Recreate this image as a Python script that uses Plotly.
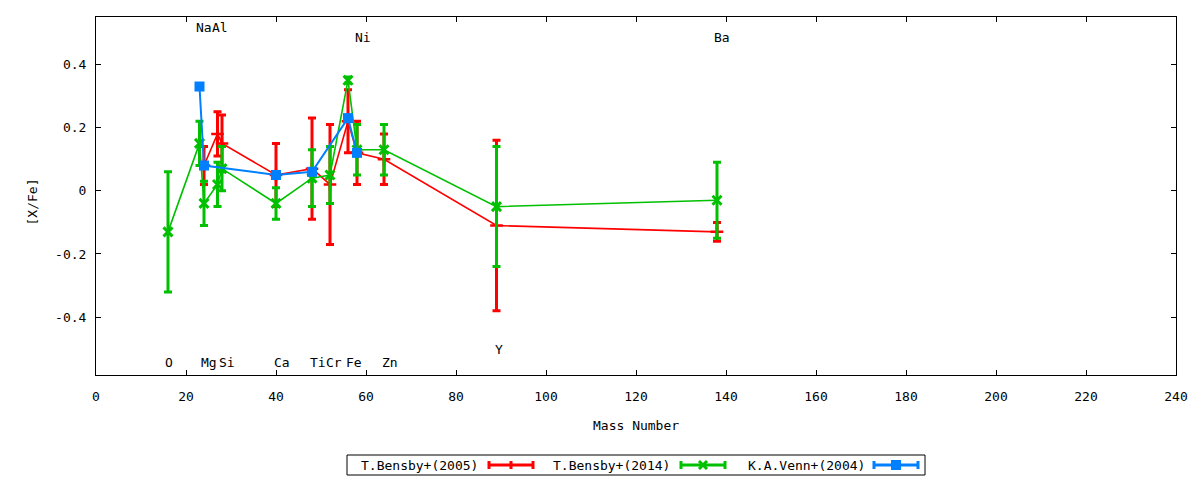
import plotly.graph_objects as go

# ---------------- data ----------------
b05_elem = ["Mg", "Al", "Si", "Ca", "Ti", "Cr", "Fe", "Ni", "Zn", "Y", "Ba"]
b05_mass = [24, 27, 28, 40, 48, 52, 56, 58, 64, 89, 138]
b05_val = [0.08, 0.18, 0.15, 0.05, 0.07, 0.02, 0.22, 0.12, 0.10, -0.11, -0.13]
b05_err = [0.06, 0.07, 0.09, 0.10, 0.16, 0.19, 0.10, 0.10, 0.08, 0.27, 0.03]

b14_elem = ["O", "Na", "Mg", "Al", "Si", "Ca", "Ti", "Cr", "Fe", "Ni", "Zn", "Y", "Ba"]
b14_mass = [16, 23, 24, 27, 28, 40, 48, 52, 56, 58, 64, 89, 138]
b14_val = [-0.13, 0.15, -0.04, 0.02, 0.07, -0.04, 0.04, 0.05, 0.35, 0.13, 0.13, -0.05, -0.03]
b14_err = [0.19, 0.07, 0.07, 0.07, 0.07, 0.05, 0.09, 0.09, 0.01, 0.08, 0.08, 0.19, 0.12]

v04_elem = ["Na", "Mg", "Ca", "Ti", "Fe", "Ni"]
v04_mass = [23, 24, 40, 48, 56, 58]
v04_val = [0.33, 0.08, 0.05, 0.06, 0.23, 0.12]

label_elem = ["O", "Na", "Mg", "Al", "Si", "Ca", "Ti", "Cr", "Fe", "Ni", "Zn", "Y", "Ba"]
label_mass = [16, 23, 24, 27, 28, 40, 48, 52, 56, 58, 64, 89, 138]

series_names = ["T.Bensby+(2005)", "T.Bensby+(2014)", "K.A.Venn+(2004)"]
x_ticks = [0, 20, 40, 60, 80, 100, 120, 140, 160, 180, 200, 220, 240]
y_ticks = [-0.4, -0.2, 0, 0.2, 0.4]
y_tick_text = ["-0.4", "-0.2", "0", "0.2", "0.4"]

# ---------------- style ----------------
FONT = "DejaVu Sans Mono"
RED, GREEN, BLUE = "#ff0000", "#00c000", "#0080ff"

fig = go.Figure()

fig.add_trace(go.Scatter(
    x=b05_mass, y=b05_val, mode="lines+markers", name=series_names[0],
    line=dict(color=RED, width=1.6),
    marker=dict(symbol="cross-thin", size=9, color=RED, line=dict(color=RED, width=2.5)),
    error_y=dict(type="data", array=b05_err, visible=True, color=RED, thickness=3, width=4),
    showlegend=False))

fig.add_trace(go.Scatter(
    x=b14_mass, y=b14_val, mode="lines+markers", name=series_names[1],
    line=dict(color=GREEN, width=1.6),
    marker=dict(symbol="x-thin", size=9, color=GREEN, line=dict(color=GREEN, width=3)),
    error_y=dict(type="data", array=b14_err, visible=True, color=GREEN, thickness=3, width=4),
    showlegend=False))

fig.add_trace(go.Scatter(
    x=v04_mass, y=v04_val, mode="lines+markers", name=series_names[2],
    line=dict(color=BLUE, width=2),
    marker=dict(symbol="square", size=10, color=BLUE),
    showlegend=False))

# element labels
row_y = {"high": 0.516, "mid": 0.484, "low": -0.544, "ylow": -0.503}
label_row = {"O": "low", "Na": "high", "Mg": "low", "Al": "high", "Si": "low", "Ca": "low",
             "Ti": "low", "Cr": "low", "Fe": "low", "Ni": "mid", "Zn": "low", "Y": "ylow", "Ba": "mid"}
label_shift = {"O": 1, "Na": 4, "Mg": 5, "Al": 2, "Si": 5, "Ca": 6, "Ti": 6, "Cr": 4,
               "Fe": 6, "Ni": 6, "Zn": 6, "Y": 2, "Ba": 5}
annotations = []
for el, m in zip(label_elem, label_mass):
    annotations.append(dict(x=m, y=row_y[label_row[el]], xref="x", yref="y", text=el,
                            showarrow=False, xshift=label_shift[el],
                            font=dict(family=FONT, size=13, color="black")))

# axis titles
annotations.append(dict(x=0.5, y=0, xref="paper", yref="paper", text="Mass Number",
                        showarrow=False, yshift=-50, font=dict(family=FONT, size=13, color="black")))
annotations.append(dict(x=0, y=0.5, xref="paper", yref="paper", text="[X/Fe]", textangle=-90,
                        showarrow=False, xshift=-64, yshift=-6, font=dict(family=FONT, size=13, color="black")))
annotations[-2]["yshift"] = -60
annotations[-1]["xshift"] = -74

# page offset (body margin) compensation: screen px -> figure px
OFF = 8
L, W, T, H = 96, 1080, 17, 358
def px(xp):
    return (xp - L) / W
def py(yp):
    return (T + H - yp) / H

shapes = [dict(type="rect", xref="paper", yref="paper", x0=px(347), x1=px(925), y0=py(455), y1=py(475),
               line=dict(color="black", width=1), fillcolor="rgba(0,0,0,0)")]
leg_y = 465
entries = [(series_names[0], RED, 480, 489, 533, "plus"),
           (series_names[1], GREEN, 672, 681, 725, "x"),
           (series_names[2], BLUE, 867, 874, 918, "square")]
for name, col, tx, s0, s1, mk in entries:
    annotations.append(dict(x=px(tx), y=py(leg_y), xref="paper", yref="paper", text=name,
                            showarrow=False, xanchor="right", yanchor="middle",
                            font=dict(family=FONT, size=13, color="black")))
    shapes.append(dict(type="line", xref="paper", yref="paper", x0=px(s0), x1=px(s1),
                       y0=py(leg_y), y1=py(leg_y), line=dict(color=col, width=3)))
    for sx in (s0, s1):
        shapes.append(dict(type="line", xref="paper", yref="paper", x0=px(sx), x1=px(sx),
                           y0=py(leg_y - 4), y1=py(leg_y + 4), line=dict(color=col, width=3)))
    cx = (s0 + s1) / 2
    if mk == "plus":
        shapes.append(dict(type="line", xref="paper", yref="paper", x0=px(cx), x1=px(cx),
                           y0=py(leg_y - 4), y1=py(leg_y + 4), line=dict(color=col, width=3)))
    elif mk == "x":
        shapes.append(dict(type="line", xref="paper", yref="paper", x0=px(cx - 4), x1=px(cx + 4),
                           y0=py(leg_y - 4), y1=py(leg_y + 4), line=dict(color=col, width=3)))
        shapes.append(dict(type="line", xref="paper", yref="paper", x0=px(cx - 4), x1=px(cx + 4),
                           y0=py(leg_y + 4), y1=py(leg_y - 4), line=dict(color=col, width=3)))
    else:
        shapes.append(dict(type="rect", xref="paper", yref="paper", x0=px(cx - 5), x1=px(cx + 5),
                           y0=py(leg_y - 5), y1=py(leg_y + 5), line=dict(color=col, width=0), fillcolor=col))

fig.update_layout(
    width=1200, height=480,
    margin=dict(l=L - OFF, r=1200 - (L + W) + OFF, t=T - OFF, b=480 - (T + H) + OFF, pad=0),
    paper_bgcolor="white", plot_bgcolor="white",
    font=dict(family=FONT, size=13, color="black"),
    annotations=annotations, shapes=shapes,
    showlegend=False,
    xaxis=dict(range=[0, 240], tickvals=x_ticks, ticks="inside", ticklen=5, tickcolor="black",
               showline=True, linecolor="black", linewidth=1, mirror="ticks", showgrid=False,
               zeroline=False, ticklabelstandoff=9, tickfont=dict(family=FONT, size=13)),
    yaxis=dict(range=[-0.583, 0.55], tickvals=y_ticks, ticktext=y_tick_text, ticks="inside",
               ticklen=5, tickcolor="black", showline=True, linecolor="black", linewidth=1,
               mirror="ticks", showgrid=False, zeroline=False, ticklabelstandoff=6,
               tickfont=dict(family=FONT, size=13)),
)

fig.write_html("out.html")
